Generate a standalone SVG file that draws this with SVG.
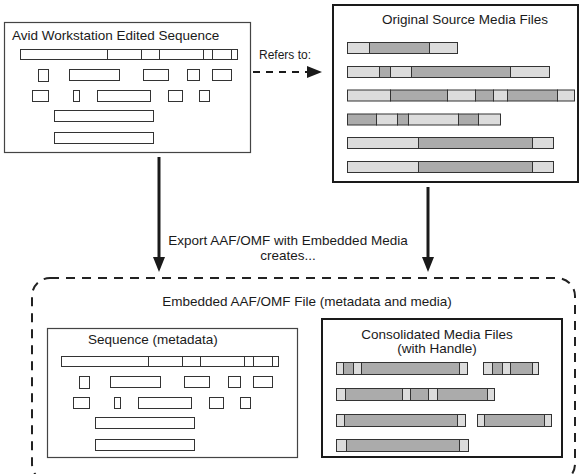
<svg xmlns="http://www.w3.org/2000/svg" xmlns:xlink="http://www.w3.org/1999/xlink" width="581" height="474" viewBox="0 0 581 474">
  <style>
    .t { font-family: "Liberation Sans", Arial, sans-serif; font-size: 13.5px; fill: #1a1a1a; }
    .ts { font-family: "Liberation Sans", Arial, sans-serif; font-size: 12px; fill: #1a1a1a; }
    .mid { text-anchor: middle; }
    .thinbox { fill: #ffffff; stroke: #444444; stroke-width: 1.2; }
    .thickbox { fill: #ffffff; stroke: #1a1a1a; stroke-width: 2; }
    .clip { fill: #ffffff; stroke: #333333; stroke-width: 1; }
    .L { fill: #dcdcdc; stroke: #333333; stroke-width: 1; }
    .D { fill: #ababab; stroke: #333333; stroke-width: 1; }
    .container { fill: none; stroke: #222222; stroke-width: 2; stroke-dasharray: 9 7; }
    .solidarrow { stroke: #1a1a1a; stroke-width: 3; fill: none; }
    .dasharrow { stroke: #1a1a1a; stroke-width: 2; fill: none; stroke-dasharray: 7 6; }
  </style>
  <defs>
    <marker id="headV" markerUnits="userSpaceOnUse" markerWidth="15" markerHeight="12" viewBox="0 0 15 12" refX="1" refY="6" orient="auto">
      <path d="M0,0 L15,6 L0,12 z" fill="#1a1a1a"/>
    </marker>
    <marker id="headH" markerUnits="userSpaceOnUse" markerWidth="15" markerHeight="12" viewBox="0 0 15 12" refX="1" refY="6" orient="auto">
      <path d="M0,0 L15,6 L0,12 z" fill="#1a1a1a"/>
    </marker>
    <g id="seq-clips">
      <rect class="clip" x="20.5" y="49.5" width="87" height="10"/>
      <rect class="clip" x="107.5" y="49.5" width="34" height="10"/>
      <rect class="clip" x="141.5" y="49.5" width="18" height="10"/>
      <rect class="clip" x="159.5" y="49.5" width="44" height="10"/>
      <rect class="clip" x="203.5" y="49.5" width="9" height="10"/>
      <rect class="clip" x="212.5" y="49.5" width="19" height="10"/>
      <rect class="clip" x="231.5" y="49.5" width="6" height="10"/>
      <rect class="clip" x="38.5" y="69.5" width="10" height="12"/>
      <rect class="clip" x="69.5" y="69.5" width="50" height="11"/>
      <rect class="clip" x="143.5" y="69.5" width="25" height="11"/>
      <rect class="clip" x="187.5" y="69.5" width="12" height="11"/>
      <rect class="clip" x="212.5" y="69.5" width="19" height="11"/>
      <rect class="clip" x="32.5" y="90.5" width="16" height="11"/>
      <rect class="clip" x="73.5" y="90.5" width="6" height="11"/>
      <rect class="clip" x="97.5" y="90.5" width="53" height="11"/>
      <rect class="clip" x="168.5" y="90.5" width="14" height="11"/>
      <rect class="clip" x="199.5" y="90.5" width="10" height="11"/>
      <rect class="clip" x="54.5" y="110.5" width="99" height="11"/>
      <rect class="clip" x="54.5" y="132.5" width="99" height="11"/>
    </g>
  </defs>

  <g id="embedded-file">
    <rect class="container" x="32" y="278" width="543" height="204" rx="18" ry="18"/>
    <text class="t mid" x="307" y="306">Embedded AAF/OMF File (metadata and media)</text>
  </g>

  <g id="avid-sequence">
    <rect class="thinbox" x="4.5" y="22.5" width="246" height="130"/>
    <text class="t" x="12" y="40">Avid Workstation Edited Sequence</text>
    <use xlink:href="#seq-clips" href="#seq-clips"/>
  </g>

  <g id="source-media">
    <rect class="thickbox" x="333" y="5" width="245" height="177"/>
    <text class="t mid" x="465" y="24">Original Source Media Files</text>
    <rect class="L" x="347.5" y="42.5" width="22" height="11"/>
    <rect class="D" x="369.5" y="42.5" width="60" height="11"/>
    <rect class="L" x="429.5" y="42.5" width="28" height="11"/>

    <rect class="L" x="347.5" y="66.5" width="32" height="11"/>
    <rect class="D" x="379.5" y="66.5" width="11" height="11"/>
    <rect class="L" x="390.5" y="66.5" width="21" height="11"/>
    <rect class="D" x="411.5" y="66.5" width="99" height="11"/>
    <rect class="L" x="510.5" y="66.5" width="39" height="11"/>

    <rect class="L" x="347.5" y="90" width="43" height="11"/>
    <rect class="D" x="390.5" y="90" width="57" height="11"/>
    <rect class="L" x="447.5" y="90" width="28" height="11"/>
    <rect class="D" x="475.5" y="90" width="18" height="11"/>
    <rect class="L" x="493.5" y="90" width="14" height="11"/>
    <rect class="D" x="507.5" y="90" width="50" height="11"/>
    <rect class="L" x="557.5" y="90" width="17" height="11"/>

    <rect class="D" x="347.5" y="114" width="29" height="11"/>
    <rect class="L" x="376.5" y="114" width="21" height="11"/>
    <rect class="D" x="397.5" y="114" width="11" height="11"/>
    <rect class="L" x="408.5" y="114" width="50" height="11"/>
    <rect class="D" x="458.5" y="114" width="20" height="11"/>
    <rect class="L" x="478.5" y="114" width="22" height="11"/>

    <rect class="L" x="347.5" y="137.5" width="71" height="11"/>
    <rect class="D" x="418.5" y="137.5" width="114" height="11"/>
    <rect class="L" x="532.5" y="137.5" width="21" height="11"/>

    <rect class="L" x="347.5" y="161.5" width="71" height="11"/>
    <rect class="D" x="418.5" y="161.5" width="114" height="11"/>
    <rect class="L" x="532.5" y="161.5" width="21" height="11"/>
  </g>

  <g id="sequence-metadata">
    <rect class="thinbox" x="47.5" y="328.5" width="250" height="129"/>
    <text class="t" x="88" y="344">Sequence (metadata)</text>
    <use xlink:href="#seq-clips" href="#seq-clips" x="41" y="307"/>
  </g>

  <g id="consolidated-media">
    <rect class="thickbox" x="322" y="319" width="240" height="138"/>
    <text class="t mid" x="437" y="339">Consolidated Media Files</text>
    <text class="t mid" x="437" y="353">(with Handle)</text>

    <rect class="L" x="336.5" y="362.5" width="7" height="12"/>
    <rect class="D" x="343.5" y="362.5" width="10" height="12"/>
    <rect class="L" x="353.5" y="362.5" width="8" height="12"/>
    <rect class="D" x="361.5" y="362.5" width="98" height="12"/>
    <rect class="L" x="459.5" y="362.5" width="8" height="12"/>
    <rect class="L" x="483.5" y="362.5" width="9" height="12"/>
    <rect class="D" x="492.5" y="362.5" width="10" height="12"/>
    <rect class="L" x="502.5" y="362.5" width="8" height="12"/>
    <rect class="D" x="510.5" y="362.5" width="22" height="12"/>
    <rect class="L" x="532.5" y="362.5" width="6" height="12"/>

    <rect class="L" x="336.5" y="388.5" width="9" height="12"/>
    <rect class="D" x="345.5" y="388.5" width="57" height="12"/>
    <rect class="L" x="402.5" y="388.5" width="8" height="12"/>
    <rect class="D" x="410.5" y="388.5" width="18" height="12"/>
    <rect class="L" x="428.5" y="388.5" width="9" height="12"/>
    <rect class="D" x="437.5" y="388.5" width="50" height="12"/>
    <rect class="L" x="487.5" y="388.5" width="7" height="12"/>

    <rect class="L" x="336.5" y="414.5" width="8" height="12"/>
    <rect class="D" x="344.5" y="414.5" width="113" height="12"/>
    <rect class="L" x="457.5" y="414.5" width="8" height="12"/>
    <rect class="L" x="477.5" y="414.5" width="7" height="12"/>
    <rect class="D" x="484.5" y="414.5" width="60" height="12"/>
    <rect class="L" x="544.5" y="414.5" width="7" height="12"/>

    <rect class="L" x="336.5" y="439.5" width="10" height="12"/>
    <rect class="D" x="346.5" y="439.5" width="113" height="12"/>
    <rect class="L" x="459.5" y="439.5" width="9" height="12"/>
  </g>

  <g id="connectors">
    <line class="dasharrow" x1="253" y1="72" x2="308" y2="72" marker-end="url(#headH)"/>
    <text class="ts" x="259" y="59">Refers to:</text>
    <line class="solidarrow" x1="159" y1="157" x2="159" y2="258" marker-end="url(#headV)"/>
    <line class="solidarrow" x1="428" y1="187" x2="428" y2="258" marker-end="url(#headV)"/>
    <text class="t mid" x="288" y="245">Export AAF/OMF with Embedded Media</text>
    <text class="t mid" x="288" y="260">creates...</text>
  </g>
</svg>
